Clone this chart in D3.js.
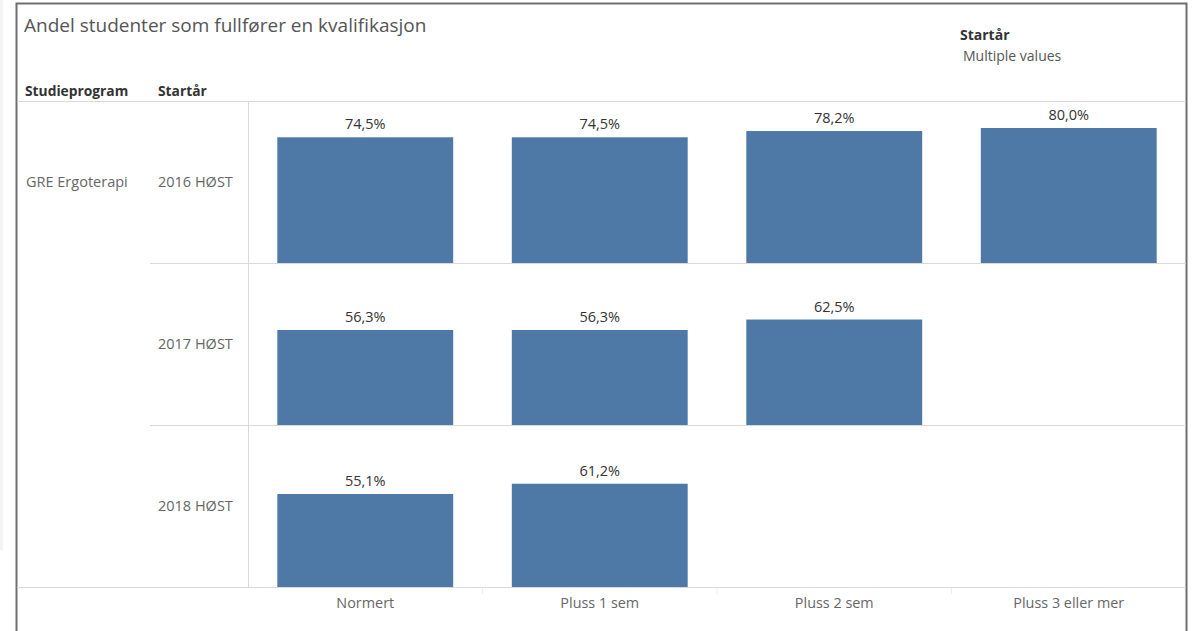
<!DOCTYPE html>
<html lang="no">
<head>
  <meta charset="utf-8"/>
  <title>Andel studenter som fullfører en kvalifikasjon</title>
  <script src="https://d3js.org/d3.v7.min.js"></script>
  <style>
    body { margin: 0; background: #fff; }
    svg { display: block; font-family: "Open Sans", "Noto Sans", sans-serif; }
  </style>
</head>
<body>
  <svg id="chart" width="1197" height="631"></svg>
  <script>
    // data
    var categories = ["Normert", "Pluss 1 sem", "Pluss 2 sem", "Pluss 3 eller mer"];
    var startYears = ["2016 HØST", "2017 HØST", "2018 HØST"];
    var program = "GRE Ergoterapi";
    var values2016 = [74.5, 74.5, 78.2, 80.0];
    var values2017 = [56.3, 56.3, 62.5];
    var values2018 = [55.1, 61.2];
    var rows = [values2016, values2017, values2018];

    var svg = d3.select("#chart");

    var plotLeft = 248, plotRight = 1186, plotTop = 101, plotBottom = 587;
    var barColor = "#4e79a7";
    var lineColor = "#d9d9d9";

    var nb = d3.formatLocale({decimal: ",", thousands: " ", grouping: [3], currency: ["", " kr"]});
    var pct = function(v) { return nb.format(".1f")(v) + "%"; };

    var x = d3.scaleBand().domain(categories).range([plotLeft, plotRight])
              .paddingInner(0.25).paddingOuter(0.125);
    var row = d3.scaleBand().domain(startYears).range([plotTop, plotBottom]);
    var y = d3.scaleLinear().domain([0, 96]).range([row.bandwidth(), 0]);

    // faint strip at the very left
    svg.append("rect").attr("x", 0).attr("y", 0).attr("width", 3).attr("height", 550).attr("fill", "#f4f4f4");

    // outer frame
    svg.append("path")
      .attr("d", "M16.5,631 V3.5 H1186.5 V631")
      .attr("fill", "none").attr("stroke", "#6e6e6e").attr("stroke-width", 2);

    // title
    svg.append("text").attr("x", 24).attr("y", 32)
      .attr("font-size", 19).attr("fill", "#555").text("Andel studenter som fullfører en kvalifikasjon");

    // filter card
    svg.append("text").attr("x", 960).attr("y", 40)
      .attr("font-size", 14).attr("font-weight", "bold").attr("fill", "#333").text("Startår");
    svg.append("text").attr("x", 963).attr("y", 61)
      .attr("font-size", 14).attr("fill", "#555").text("Multiple values");

    // column headers
    svg.append("text").attr("x", 25).attr("y", 96)
      .attr("font-size", 13.8).attr("font-weight", "bold").attr("fill", "#333").text("Studieprogram");
    svg.append("text").attr("x", 158).attr("y", 96)
      .attr("font-size", 13.8).attr("font-weight", "bold").attr("fill", "#333").text("Startår");

    // grid lines
    var g = svg.append("g").attr("stroke", lineColor).attr("stroke-width", 1);
    g.append("line").attr("x1", 17).attr("x2", plotRight).attr("y1", plotTop + 0.5).attr("y2", plotTop + 0.5);
    g.append("line").attr("x1", 17).attr("x2", plotRight).attr("y1", plotBottom + 0.5).attr("y2", plotBottom + 0.5);
    g.append("line").attr("x1", plotLeft + 0.5).attr("x2", plotLeft + 0.5).attr("y1", plotTop).attr("y2", plotBottom);
    g.selectAll(".sep").data(startYears.slice(1)).join("line")
      .attr("class", "sep")
      .attr("x1", 150).attr("x2", plotRight)
      .attr("y1", d => row(d) + 0.5).attr("y2", d => row(d) + 0.5);

    // row labels
    svg.append("text").attr("x", 26).attr("y", row(startYears[0]) + row.bandwidth() / 2 + 5)
      .attr("font-size", 14.5).attr("fill", "#666").text(program);
    svg.selectAll(".yl").data(startYears).join("text")
      .attr("class", "yl")
      .attr("x", 158).attr("y", d => row(d) + row.bandwidth() / 2 + 5)
      .attr("font-size", 14.5).attr("fill", "#666").text(d => d);

    // bars
    rows.forEach(function(vals, i) {
      var gr = svg.append("g").attr("transform", "translate(0," + row(startYears[i]) + ")");
      var data = vals.map((v, j) => ({cat: categories[j], v: v}));
      gr.selectAll("rect").data(data).join("rect")
        .attr("x", d => x(d.cat)).attr("width", x.bandwidth())
        .attr("y", d => y(d.v)).attr("height", d => y(0) - y(d.v))
        .attr("fill", barColor);
      gr.selectAll("text").data(data).join("text")
        .attr("x", d => x(d.cat) + x.bandwidth() / 2)
        .attr("y", d => y(d.v) - 8)
        .attr("text-anchor", "middle").attr("font-size", 14.5).attr("fill", "#333")
        .text(d => pct(d.v));
    });

    // x axis
    var ax = svg.append("g").attr("transform", "translate(0," + (plotBottom + 1) + ")")
      .call(d3.axisBottom(x).tickSize(0).tickPadding(10));
    ax.select(".domain").remove();
    ax.selectAll("text").attr("font-size", 14.4).attr("fill", "#666").attr("font-family", "'Open Sans', sans-serif");
    svg.selectAll(".tk").data(categories.slice(1)).join("line")
      .attr("class", "tk")
      .attr("x1", d => x(d) - x.step() * x.paddingInner() / 2)
      .attr("x2", d => x(d) - x.step() * x.paddingInner() / 2)
      .attr("y1", plotBottom + 1).attr("y2", plotBottom + 7)
      .attr("stroke", "#eeeeee");
  </script>
</body>
</html>
